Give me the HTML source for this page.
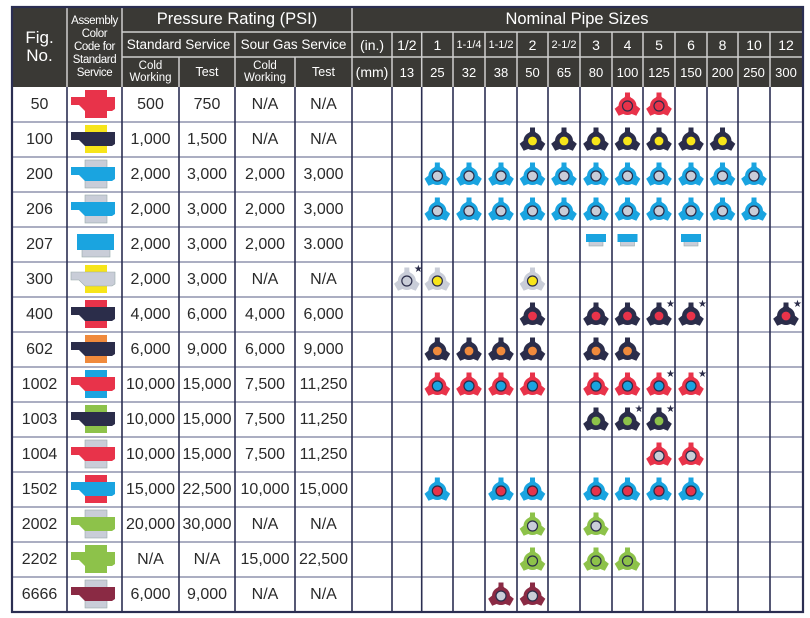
<!DOCTYPE html>
<html><head><meta charset="utf-8">
<style>
*{margin:0;padding:0;box-sizing:border-box}
body{width:810px;height:618px;background:#fff;position:relative;overflow:hidden;font-family:"Liberation Sans",sans-serif}
.a{position:absolute;display:flex;align-items:center;justify-content:center;text-align:center}
.h{color:#fff}
.row{position:absolute;left:0;width:810px;height:35px}
.row .a{top:0;height:35px;font-size:16px;color:#2a2a2a}
.f{left:12px;width:55px}.c2{left:122px;width:57px}.c3{left:179px;width:56px}.c4{left:235px;width:60px}.c5{left:295px;width:57px}
#g{position:absolute;left:0;top:0}
</style></head><body>
<div style="position:absolute;left:12px;top:7px;width:791px;height:80px;background:#3a3935"></div>
<svg id="g" width="810" height="618"></svg>
<div class="a h" style="left:12px;top:7px;width:55px;height:80px;font-size:17px;line-height:18px">Fig.<br>No.</div>
<div class="a h" style="left:67px;top:7px;width:55px;height:80px;font-size:11.5px;line-height:13px;letter-spacing:-0.4px">Assembly<br>Color<br>Code for<br>Standard<br>Service</div>
<div class="a h" style="left:122px;top:7px;width:230px;height:25px;font-size:16.5px">Pressure Rating (PSI)</div>
<div class="a h" style="left:352px;top:7px;width:450px;height:25px;font-size:16.5px">Nominal Pipe Sizes</div>
<div class="a h" style="left:122px;top:32px;width:113px;height:25px;font-size:13.5px">Standard Service</div>
<div class="a h" style="left:235px;top:32px;width:117px;height:25px;font-size:13.5px">Sour Gas Service</div>
<div class="a h" style="left:352px;top:32px;width:40px;height:25px;font-size:14px">(in.)</div>
<div class="a h" style="left:352px;top:57px;width:40px;height:30px;font-size:14px">(mm)</div>
<div class="a h" style="left:122px;top:57px;width:57px;height:30px;font-size:11.5px;line-height:12px">Cold<br>Working</div>
<div class="a h" style="left:179px;top:57px;width:56px;height:30px;font-size:12.5px">Test</div>
<div class="a h" style="left:235px;top:57px;width:60px;height:30px;font-size:11.5px;line-height:12px">Cold<br>Working</div>
<div class="a h" style="left:295px;top:57px;width:57px;height:30px;font-size:12.5px">Test</div>
<div class="row" style="top:87px"><div class="a f">50</div><div class="a c2">500</div><div class="a c3">750</div><div class="a c4">N/A</div><div class="a c5">N/A</div></div>
<div class="row" style="top:122px"><div class="a f">100</div><div class="a c2">1,000</div><div class="a c3">1,500</div><div class="a c4">N/A</div><div class="a c5">N/A</div></div>
<div class="row" style="top:157px"><div class="a f">200</div><div class="a c2">2,000</div><div class="a c3">3,000</div><div class="a c4">2,000</div><div class="a c5">3,000</div></div>
<div class="row" style="top:192px"><div class="a f">206</div><div class="a c2">2,000</div><div class="a c3">3,000</div><div class="a c4">2,000</div><div class="a c5">3,000</div></div>
<div class="row" style="top:227px"><div class="a f">207</div><div class="a c2">2,000</div><div class="a c3">3,000</div><div class="a c4">2,000</div><div class="a c5">3.000</div></div>
<div class="row" style="top:262px"><div class="a f">300</div><div class="a c2">2,000</div><div class="a c3">3,000</div><div class="a c4">N/A</div><div class="a c5">N/A</div></div>
<div class="row" style="top:297px"><div class="a f">400</div><div class="a c2">4,000</div><div class="a c3">6,000</div><div class="a c4">4,000</div><div class="a c5">6,000</div></div>
<div class="row" style="top:332px"><div class="a f">602</div><div class="a c2">6,000</div><div class="a c3">9,000</div><div class="a c4">6,000</div><div class="a c5">9,000</div></div>
<div class="row" style="top:367px"><div class="a f">1002</div><div class="a c2">10,000</div><div class="a c3">15,000</div><div class="a c4">7,500</div><div class="a c5">11,250</div></div>
<div class="row" style="top:402px"><div class="a f">1003</div><div class="a c2">10,000</div><div class="a c3">15,000</div><div class="a c4">7,500</div><div class="a c5">11,250</div></div>
<div class="row" style="top:437px"><div class="a f">1004</div><div class="a c2">10,000</div><div class="a c3">15,000</div><div class="a c4">7,500</div><div class="a c5">11,250</div></div>
<div class="row" style="top:472px"><div class="a f">1502</div><div class="a c2">15,000</div><div class="a c3">22,500</div><div class="a c4">10,000</div><div class="a c5">15,000</div></div>
<div class="row" style="top:507px"><div class="a f">2002</div><div class="a c2">20,000</div><div class="a c3">30,000</div><div class="a c4">N/A</div><div class="a c5">N/A</div></div>
<div class="row" style="top:542px"><div class="a f">2202</div><div class="a c2">N/A</div><div class="a c3">N/A</div><div class="a c4">15,000</div><div class="a c5">22,500</div></div>
<div class="row" style="top:577px"><div class="a f">6666</div><div class="a c2">6,000</div><div class="a c3">9,000</div><div class="a c4">N/A</div><div class="a c5">N/A</div></div>
<div class="a h" style="left:392px;top:32px;width:29.7px;height:25px;font-size:14px">1/2</div>
<div class="a h" style="left:421.7px;top:32px;width:31.3px;height:25px;font-size:14px">1</div>
<div class="a h" style="left:453px;top:32px;width:32px;height:25px;font-size:11px">1-1/4</div>
<div class="a h" style="left:485px;top:32px;width:32px;height:25px;font-size:11px">1-1/2</div>
<div class="a h" style="left:517px;top:32px;width:31px;height:25px;font-size:14px">2</div>
<div class="a h" style="left:548px;top:32px;width:32px;height:25px;font-size:11px">2-1/2</div>
<div class="a h" style="left:580px;top:32px;width:32px;height:25px;font-size:14px">3</div>
<div class="a h" style="left:612px;top:32px;width:31px;height:25px;font-size:14px">4</div>
<div class="a h" style="left:643px;top:32px;width:32px;height:25px;font-size:14px">5</div>
<div class="a h" style="left:675px;top:32px;width:32px;height:25px;font-size:14px">6</div>
<div class="a h" style="left:707px;top:32px;width:31px;height:25px;font-size:14px">8</div>
<div class="a h" style="left:738px;top:32px;width:32px;height:25px;font-size:14px">10</div>
<div class="a h" style="left:770px;top:32px;width:32px;height:25px;font-size:14px">12</div>
<div class="a h" style="left:392px;top:57px;width:29.7px;height:30px;font-size:13px">13</div>
<div class="a h" style="left:421.7px;top:57px;width:31.3px;height:30px;font-size:13px">25</div>
<div class="a h" style="left:453px;top:57px;width:32px;height:30px;font-size:13px">32</div>
<div class="a h" style="left:485px;top:57px;width:32px;height:30px;font-size:13px">38</div>
<div class="a h" style="left:517px;top:57px;width:31px;height:30px;font-size:13px">50</div>
<div class="a h" style="left:548px;top:57px;width:32px;height:30px;font-size:13px">65</div>
<div class="a h" style="left:580px;top:57px;width:32px;height:30px;font-size:13px">80</div>
<div class="a h" style="left:612px;top:57px;width:31px;height:30px;font-size:13px">100</div>
<div class="a h" style="left:643px;top:57px;width:32px;height:30px;font-size:13px">125</div>
<div class="a h" style="left:675px;top:57px;width:32px;height:30px;font-size:13px">150</div>
<div class="a h" style="left:707px;top:57px;width:31px;height:30px;font-size:13px">200</div>
<div class="a h" style="left:738px;top:57px;width:32px;height:30px;font-size:13px">250</div>
<div class="a h" style="left:770px;top:57px;width:32px;height:30px;font-size:13px">300</div>
<script>
var NS="http://www.w3.org/2000/svg",g=document.getElementById('g');
function mk(par,t,a){var e=document.createElementNS(NS,t);for(var k in a)e.setAttribute(k,a[k]);par.appendChild(e);return e}
function el(t,a){return mk(g,t,a)}
var X=[392,421.7,453,485,517,548,580,612,643,675,707,738,770,802];
var NV='#2b2d4a',R='#e8334a',Y='#f7e51a',B='#1aa4e0',GR='#c9cdd8',O='#f08a3c',GN='#8dc24a',M='#8a2a44';
var LN='#2b2e52',HL='#8f93ad';
for(var i=1;i<15;i++)el('line',{x1:12,x2:803,y1:87+35*i,y2:87+35*i,stroke:HL,'stroke-width':1.5});
var hs='#cfcfcf';
el('line',{x1:122,x2:803,y1:32,y2:32,stroke:hs,'stroke-width':1.5});
el('line',{x1:122,x2:803,y1:57,y2:57,stroke:hs,'stroke-width':1.5});
[67,122,352].forEach(function(x){el('line',{x1:x,x2:x,y1:7,y2:87,stroke:hs,'stroke-width':1.5})});
[179,295].forEach(function(x){el('line',{x1:x,x2:x,y1:57,y2:87,stroke:hs,'stroke-width':1.5})});
el('line',{x1:235,x2:235,y1:32,y2:87,stroke:hs,'stroke-width':1.5});
X.slice(0,13).forEach(function(x){el('line',{x1:x,x2:x,y1:32,y2:87,stroke:hs,'stroke-width':1.5})});
[67,122,179,235,295,352].concat(X.slice(0,13)).forEach(function(x){el('line',{x1:x,x2:x,y1:87,y2:612,stroke:LN,'stroke-width':1.6})});
el('rect',{x:12,y:7,width:791,height:605,fill:'none',stroke:LN,'stroke-width':2.2});
var asm=[[R,R,R],[Y,NV,Y],[GR,B,GR],[GR,B,GR],null,[Y,GR,Y],[R,NV,R],[O,NV,O],[B,R,B],[GN,NV,GN],[GR,R,GR],[R,B,R],[GR,GN,GR],[GN,GN,GN],[GR,M,GR]];
asm.forEach(function(c,i){var y=87+35*i;
 if(!c){el('rect',{x:82,y:y+22,width:28,height:8,fill:GR,stroke:'#9aa',"stroke-width":.6});el('rect',{x:77,y:y+7,width:37,height:16,fill:B});return;}
 el('rect',{x:85,y:y+3,width:22,height:9,fill:c[0],stroke:c[0]==GR?'#9aa':'none','stroke-width':.6});
 el('rect',{x:85,y:y+22,width:22,height:9,fill:c[2],stroke:c[2]==GR?'#9aa':'none','stroke-width':.6});
 el('path',{d:'M71 '+(y+10)+'H115V'+(y+22)+'L112 '+(y+24)+'H85L79 '+(y+18)+'H71Z',fill:c[1],stroke:c[1]==GR?'#9aa':'none','stroke-width':.6});
});
function icon(cx,cy,o,inn,star){
 var s=el('g',{transform:'translate('+cx+','+cy+')'});
 mk(s,'path',{d:'M-2.5 -13.5H2.5V-9.5L5 -6H-5L-2.5 -9.5Z',fill:o});
 mk(s,'path',{d:'M-4 -12.5H4L5 -6H-5Z',fill:o,transform:'rotate(120)'});
 mk(s,'path',{d:'M-4 -12.5H4L5 -6H-5Z',fill:o,transform:'rotate(240)'});
 mk(s,'circle',{cx:0,cy:0,r:9,fill:o});
 mk(s,'circle',{cx:0,cy:0,r:5,fill:inn,stroke:NV,'stroke-width':1.2});
 if(star){var t=mk(s,'text',{x:7,y:-9,'font-size':10,fill:NV});t.textContent='\u2605'}
}
var data=[[R,R,[7,8]],[NV,Y,[4,5,6,7,8,9,10]],[B,GR,[1,2,3,4,5,6,7,8,9,10,11]],[B,GR,[1,2,3,4,5,6,7,8,9,10,11]],null,
[GR,GR,['0*']],[NV,R,[4,6,7,'8*','9*','12*']],[NV,O,[1,2,3,4,6,7]],[R,B,[1,2,3,4,6,7,'8*','9*']],[NV,GN,[6,'7*','8*']],
[R,GR,[8,9]],[B,R,[1,3,4,6,7,8,9]],[GN,GR,[4,6]],[GN,GN,[4,6,7]],[M,GR,[3,4]]];
data.forEach(function(d,i){var cy=87+35*i+19;
 if(!d){[6,7,9].forEach(function(c){var cx=(X[c]+X[c+1])/2;el('rect',{x:cx-7,y:cy-6,width:14,height:6,fill:GR,stroke:'#9aa','stroke-width':.6});el('rect',{x:cx-10,y:cy-12,width:20,height:8,fill:B})});return;}
 d[2].forEach(function(c){var st=String(c).indexOf('*')>=0;c=parseInt(c);icon((X[c]+X[c+1])/2,cy,d[0],d[1],st)});
 if(i==5){icon((X[1]+X[2])/2,cy,GR,Y,false);icon((X[4]+X[5])/2,cy,GR,Y,false)}
});
</script>
</body></html>
